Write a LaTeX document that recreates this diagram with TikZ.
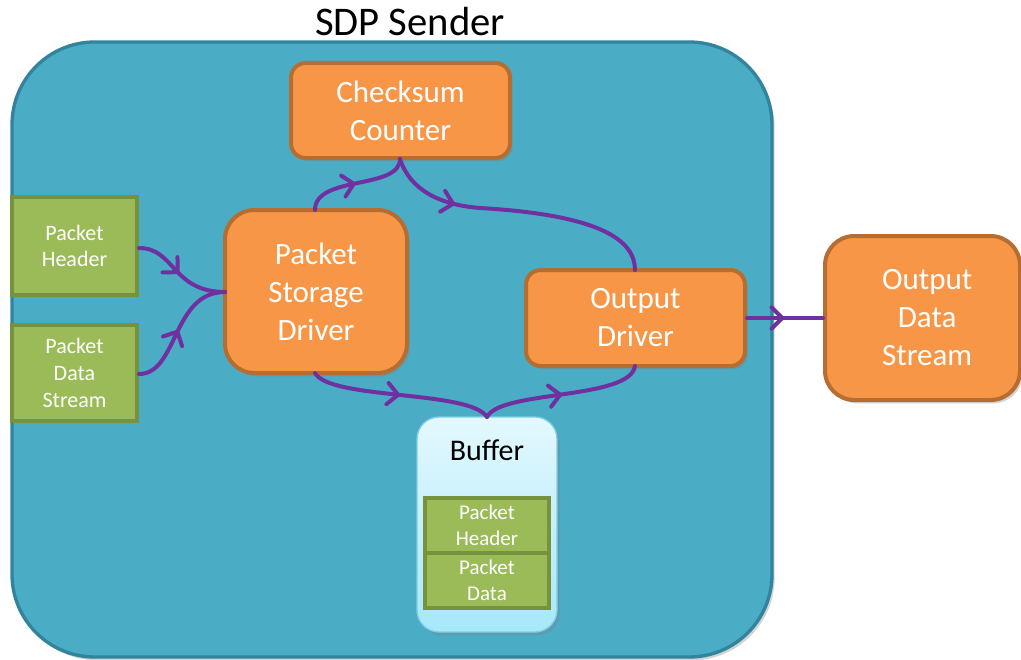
\documentclass[tikz,border=0pt]{standalone}
\usepackage{fontspec}
\setmainfont{Carlito}
\usetikzlibrary{arrows.meta,decorations.markings,shadows,positioning}
\definecolor{sysfill}{HTML}{4BACC6}
\definecolor{sysdraw}{HTML}{31849B}
\definecolor{orfill}{HTML}{F79646}
\definecolor{ordraw}{HTML}{B66D31}
\definecolor{grfill}{HTML}{9BBB59}
\definecolor{grdraw}{HTML}{76923C}
\definecolor{flow}{HTML}{7030A0}
\definecolor{buftop}{HTML}{E4F8FE}
\definecolor{bufbot}{HTML}{A6E8FA}
\definecolor{bufdraw}{HTML}{7FCDE6}
\tikzset{
  shad/.style={drop shadow={opacity=0.35,shadow xshift=2pt,shadow yshift=-2.5pt}},
  orbox/.style={shad,draw=ordraw,fill=orfill,line width=3pt,text=white,align=center,
    font=\fontsize{23.25}{28.5}\selectfont,inner sep=0pt},
  grbox/.style={draw=grdraw,fill=grfill,line width=3pt,text=white,align=center,
    font=\fontsize{16.5}{20}\selectfont,inner sep=0pt,minimum width=93.75pt},
  inbox/.style={draw=grdraw,fill=grfill,line width=3pt,text=white,align=center,
    font=\fontsize{15.75}{19.5}\selectfont,inner sep=0pt,minimum width=93pt,minimum height=41.25pt},
  flowline/.style={draw=flow,line width=3pt,line cap=round,
    postaction={decorate},
    decoration={markings,mark=at position #1 with {\arrow{Straight Barb[length=8pt,width=16pt,line width=3pt,line cap=round]}}}},
  flowline/.default=0.5
}
\begin{document}
\begin{tikzpicture}[x=0.75pt,y=-0.75pt]
\useasboundingbox (0,0) rectangle (1021,660);
% system
\node[shad,draw=sysdraw,fill=sysfill,line width=2.5pt,rounded corners=62pt,
  minimum width=570pt,minimum height=461.25pt,inner sep=0pt] (sys) at (392,349.5) {};
\node[font=\fontsize{30.5}{36}\selectfont,anchor=base] (title) at (410,36) {SDP Sender};
% boxes
\node[orbox,rounded corners=11pt,minimum width=164.25pt,minimum height=71.25pt] (cc) at (400.5,110.5) {Checksum\\Counter};
\node[orbox,rounded corners=22pt,minimum width=136.5pt,minimum height=122.25pt] (psd) at (316,291.5) {Packet\\Storage\\Driver};
\node[orbox,rounded corners=11pt,minimum width=164.25pt,minimum height=72pt] (od) at (635.5,318) {Output\\Driver};
\node[orbox,rounded corners=22pt,minimum width=146.25pt,minimum height=123pt] (ods) at (922.5,318) {\hspace*{7pt}Output\\\hspace*{7pt}Data\\\hspace*{7pt}Stream};
\node[grbox,minimum height=73.5pt] (ph) at (74.5,246) {Packet\\Header};
\node[grbox,minimum height=72pt] (pds) at (74.5,373) {Packet\\Data\\Stream};
% buffer
\node[shad,draw=bufdraw,line width=1pt,top color=buftop,bottom color=bufbot,rounded corners=16.5pt,
  minimum width=105pt,minimum height=161.25pt,inner sep=0pt] (buf) at (487,524.5) {};
\node[font=\fontsize{22.5}{27}\selectfont,anchor=base] (buflabel) at (487,460) {Buffer};
\node[inbox] (bph) at (487,525.5) {Packet\\Header};
\node[inbox] (bpd) at (487,580.5) {Packet\\Data};
% anchors
\coordinate (psdL) at (225,292);
\coordinate (psdT) at (315,210);
\coordinate (psdB) at (315,373);
\coordinate (ccB) at (400,159);
\coordinate (odT) at (635,270);
\coordinate (odB) at (635,366);
\coordinate (bufT) at (487,417);
% connectors
\draw[flowline] (ph.east |- 0,248) .. controls (175,248) and (172,292) .. (psdL);
\draw[flowline] (pds.east |- 0,374) .. controls (178,374) and (172,292) .. (psdL);
\draw[flowline] (psdT) .. controls (315,175) and (400,190) .. (ccB);
\draw[flowline=0.27] (ccB) .. controls (410,190) and (440,205) .. (480,208) .. controls (600,215) and (635,240) .. (odT);
\draw[flowline] (psdB) .. controls (330,400) and (470,390) .. (bufT);
\draw[flowline] (bufT) .. controls (500,390) and (630,400) .. (odB);
\draw[flowline] (od.east) -- (ods.west);
\end{tikzpicture}
\end{document}
